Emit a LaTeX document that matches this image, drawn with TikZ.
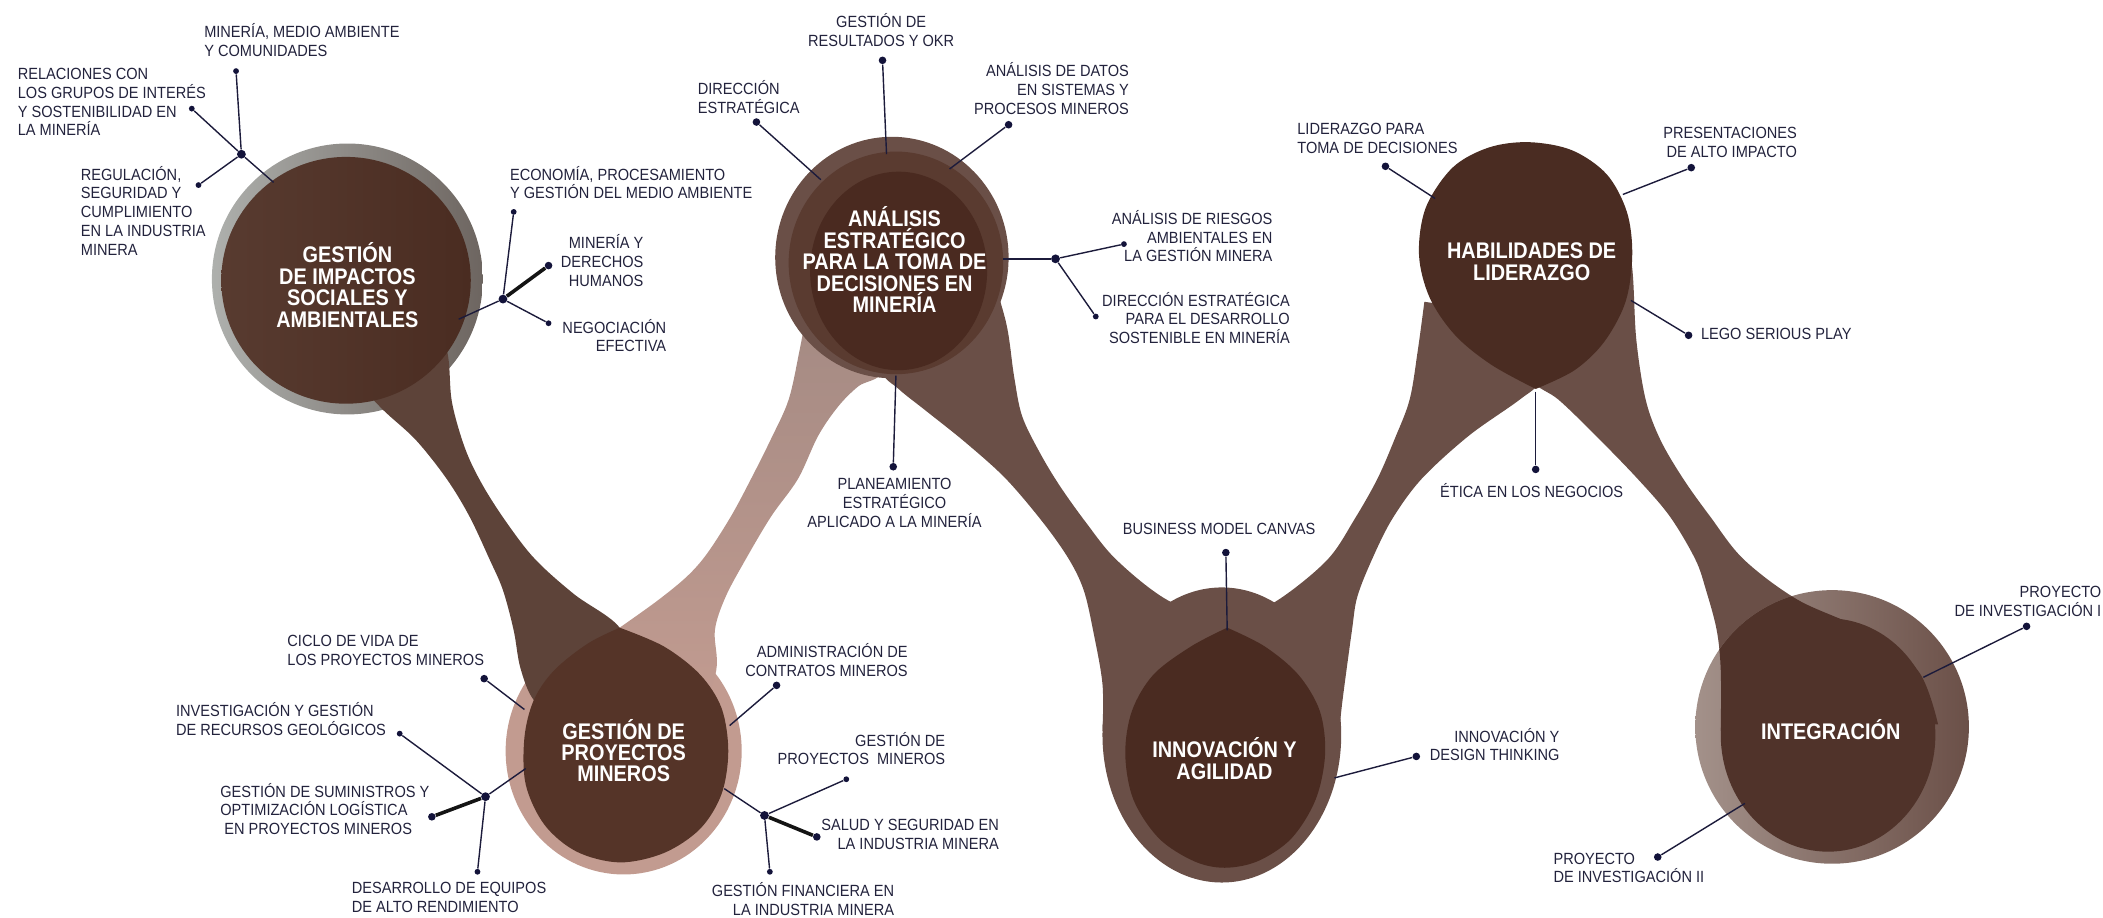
\documentclass[tikz,border=0pt]{standalone}
\usepackage{fontspec}
\newfontfamily\lblfont[FakeStretch=0.9]{Liberation Sans}
\newfontfamily\ttlfont[FakeStretch=0.88]{Liberation Sans}
\definecolor{grayL}{HTML}{AEB0AD}
\definecolor{grayR}{HTML}{6D6560}
\definecolor{innerAL}{HTML}{583B30}
\definecolor{innerAR}{HTML}{4A2C21}
\definecolor{bandAB}{HTML}{5D4339}
\definecolor{pinkB}{HTML}{C29B90}
\definecolor{innerB}{HTML}{553428}
\definecolor{lightTop}{HTML}{A48A83}
\definecolor{lightBot}{HTML}{C39C91}
\definecolor{bandc}{HTML}{6A4F47}
\definecolor{midC}{HTML}{5A3B30}
\definecolor{innerC}{HTML}{4A2A20}
\definecolor{innerD}{HTML}{4A2B21}
\definecolor{innerE}{HTML}{4A2C22}
\definecolor{ringFL}{HTML}{A3918A}
\definecolor{ringFR}{HTML}{6B5048}
\definecolor{innerF}{HTML}{50332A}
\definecolor{linec}{HTML}{1C1B3B}
\definecolor{thkc}{HTML}{141414}
\definecolor{dotc}{HTML}{13133A}
\definecolor{lblc}{HTML}{22223C}
\begin{document}
\begin{tikzpicture}[x=0.6706pt,y=-0.6706pt,
  ln/.style={draw=linec, line width=0.7pt},
  thk/.style={draw=thkc, line width=1.8pt},
  dot/.style={circle, fill=dotc, inner sep=0pt, minimum size=3.8pt},
  sdot/.style={circle, fill=dotc, inner sep=0pt, minimum size=2.9pt},
  jdot/.style={circle, fill=dotc, inner sep=0pt, minimum size=4.4pt},
  lbl/.style={font=\lblfont\fontsize{8.1pt}{9.39pt}\selectfont, text=lblc, inner sep=0pt},
  lblL/.style={lbl, align=left, anchor=base west},
  lblR/.style={lbl, align=right, anchor=base east},
  lblC/.style={lbl, align=center, anchor=base},
  ttl/.style={font=\ttlfont\bfseries\fontsize{11.3pt}{10.73pt}\selectfont, text=white, align=center, anchor=base, inner sep=0pt},
  sm/.style={smooth, tension=0.55}
]
\useasboundingbox (0,0) rectangle (1568,684);

% ---- node A outer ring
\shade[left color=grayL, right color=grayR] (259,208) circle[radius=101];
% ---- node B pink outer
\fill[pinkB] (465,560) ellipse[x radius=88, y radius=92];
% ---- light band B-C
\shade[top color=lightTop, bottom color=lightBot]
  plot[sm] coordinates {(462,468) (490,448) (512,430) (527,413) (545,385) (560,357) (575,327) (588,298) (596,262) (602,230)}
  -- plot[sm] coordinates {(650,235) (658,276) (640,288) (625,303) (610,325) (595,357) (575,385) (556,417) (541,445) (533,470) (534,500) (520,540)}
  -- cycle;
% ---- band A-B
\fill[bandAB]
  plot[sm] coordinates {(325,230) (334,265) (337,300) (347,335) (360,362) (378,390) (399,417) (428,443) (462,468) (470,500)}
  -- plot[sm] coordinates {(420,540) (398,522) (388,498) (383,470) (375,440) (365,417) (350,385) (333,357) (310,328) (285,305) (262,280)}
  -- cycle;
% ---- node A inner
\shade[left color=innerAL, right color=innerAR] (258,209) ellipse[x radius=93, y radius=92];
% ---- node B inner
\fill[innerB] plot[sm] coordinates {(462,468) (438,480) (413,500) (398,522) (391,550) (392,585) (406,615) (430,635) (462,643) (495,636) (522,618) (538,592) (543,560) (538,528) (522,503) (495,482) (462,468)} -- cycle;
% ---- band C-D
\fill[bandc]
  plot[sm] coordinates {(735,190) (750,240) (756,280) (762,310) (775,337) (790,362) (810,390) (832,417) (868,446) (915,468)}
  -- plot[sm] coordinates {(822,545) (822,510) (815,470) (808,440) (797,417) (778,390) (750,357) (720,330) (690,306) (670,290) (658,276) (665,240)}
  -- cycle;
% ---- band D-E
\fill[bandc]
  plot[sm] coordinates {(915,468) (955,446) (990,417) (1010,387) (1027,357) (1040,327) (1051,298) (1057,262) (1062,225)}
  -- plot[sm] coordinates {(1165,240) (1150,282) (1133,298) (1095,325) (1060,357) (1038,387) (1023,417) (1012,445) (1008,470) (1001,522) (998,550)}
  -- cycle;
% ---- band E-F
\fill[bandc]
  plot[sm] coordinates {(1210,160) (1217,200) (1220,253) (1227,298) (1238,328) (1255,357) (1275,385) (1300,417) (1340,447) (1390,470) (1430,500) (1445,540)}
  -- plot[sm] coordinates {(1283,545) (1283,500) (1280,470) (1272,440) (1264,417) (1245,385) (1221,357) (1190,325) (1162,298) (1140,282) (1115,240)}
  -- cycle;
% ---- node C
\fill[bandc] (665,192) ellipse[x radius=87, y radius=90];
\fill[midC] (668,196) ellipse[x radius=80, y radius=83];
\fill[innerC] (670,202) ellipse[x radius=66, y radius=74];
% ---- node D
\fill[bandc] (911,548) ellipse[x radius=89, y radius=110];
\fill[innerD] plot[sm] coordinates {(915,468) (888,482) (860,503) (844,530) (839,562) (845,596) (864,625) (890,642) (913,647) (938,642) (963,625) (981,596) (988,562) (984,530) (968,503) (943,482) (915,468)} -- cycle;
% ---- node E
\fill[innerE] plot[sm] coordinates {(1145,290) (1112,272) (1085,250) (1066,222) (1058,190) (1063,155) (1083,125) (1110,110) (1140,106) (1172,112) (1198,130) (1213,158) (1217,190) (1212,225) (1196,255) (1174,276) (1145,290)} -- cycle;
% ---- node F
\shade[left color=ringFL, right color=ringFR] (1366,542) circle[radius=102];
\begin{scope}
\clip (1366,542) circle[radius=102];
\fill[innerF]
  plot[sm] coordinates {(1210,160) (1217,200) (1220,253) (1227,298) (1238,328) (1255,357) (1275,385) (1300,417) (1340,447) (1390,470) (1430,500) (1445,540)}
  -- plot[sm] coordinates {(1283,545) (1283,500) (1280,470) (1272,440) (1264,417) (1245,385) (1221,357) (1190,325) (1162,298) (1140,282) (1115,240)}
  -- cycle;
\fill[innerF] (1363,548) ellipse[x radius=80, y radius=87];
\end{scope}

% ================= connectors =================
% A group
\node[jdot] (J1) at (180,115) {};
\node[sdot] (d1) at (176,53) {};
\node[sdot] (d2) at (143,81) {};
\node[sdot] (d3) at (148,138) {};
\coordinate (e1) at (204,136);
\draw[ln] (J1) -- (d1);
\draw[ln] (J1) -- (d2);
\draw[ln] (J1) -- (d3);
\draw[ln] (J1) -- (e1);
\node[jdot] (J2) at (375,223) {};
\node[sdot] (d4) at (383,158) {};
\node[dot] (d5) at (409,198) {};
\node[sdot] (d6) at (409,241) {};
\coordinate (e2) at (342,238);
\draw[ln] (e2) -- (J2);
\draw[ln] (J2) -- (d4);
\draw[thk] (J2) -- (d5);
\draw[ln] (J2) -- (d6);
% C group
\node[dot] (d7) at (564,91) {};
\coordinate (e3) at (612,134);
\draw[ln] (d7) -- (e3);
\node[dot] (d8) at (658,45) {};
\coordinate (e4) at (661,115);
\draw[ln] (d8) -- (e4);
\node[dot] (d9) at (752,93) {};
\coordinate (e5) at (708,126);
\draw[ln] (d9) -- (e5);
\node[jdot] (J3) at (787,193) {};
\coordinate (e6) at (748,193);
\node[sdot] (d10) at (838,182) {};
\node[sdot] (d11) at (817,236) {};
\draw[ln] (e6) -- (J3);
\draw[ln] (J3) -- (d10);
\draw[ln] (J3) -- (d11);
\coordinate (e7) at (668,280);
\node[dot] (d12) at (666,348) {};
\draw[ln] (e7) -- (d12);
% E group
\node[dot] (d13) at (1033,124) {};
\coordinate (e8) at (1070,148);
\draw[ln] (d13) -- (e8);
\node[dot] (d14) at (1261,125) {};
\coordinate (e9) at (1210,145);
\draw[ln] (d14) -- (e9);
\node[dot] (d15) at (1259,250) {};
\coordinate (e10) at (1216,224);
\draw[ln] (e10) -- (d15);
\coordinate (e11) at (1145,292);
\node[dot] (d16) at (1145,350) {};
\draw[ln] (e11) -- (d16);
% D group
\node[dot] (d17) at (914,412) {};
\coordinate (e12) at (915,470);
\draw[ln] (d17) -- (e12);
\node[dot] (d18) at (1056,564) {};
\coordinate (e13) at (995,580);
\draw[ln] (e13) -- (d18);
% F group
\node[dot] (d19) at (1511,467) {};
\coordinate (e14) at (1434,505);
\draw[ln] (e14) -- (d19);
\node[dot] (d20) at (1236,639) {};
\coordinate (e15) at (1301,599);
\draw[ln] (e15) -- (d20);
% B group
\node[dot] (d21) at (361,506) {};
\coordinate (e16) at (391,529);
\draw[ln] (d21) -- (e16);
\node[jdot] (J4) at (362,594) {};
\coordinate (e17) at (392,573);
\node[sdot] (d22) at (298,547) {};
\node[dot] (d23) at (322,609) {};
\node[sdot] (d24) at (356,650) {};
\draw[ln] (e17) -- (J4);
\draw[ln] (J4) -- (d22);
\draw[thk] (J4) -- (d23);
\draw[ln] (J4) -- (d24);
\node[dot] (d25) at (579,511) {};
\coordinate (e18) at (544,541);
\draw[ln] (d25) -- (e18);
\node[jdot] (J5) at (570,608) {};
\coordinate (e19) at (540,588);
\node[sdot] (d26) at (631,581) {};
\node[dot] (d27) at (609,624) {};
\node[sdot] (d28) at (574,650) {};
\draw[ln] (e19) -- (J5);
\draw[ln] (J5) -- (d26);
\draw[thk] (J5) -- (d27);
\draw[ln] (J5) -- (d28);

% ================= titles (anchor = baseline of last line) =================
\node[ttl] (tA) at (259,244) {GESTIÓN\\DE IMPACTOS\\SOCIALES Y\\AMBIENTALES};
\node[ttl] (tB) at (465,583) {GESTIÓN DE\\PROYECTOS\\MINEROS};
\node[ttl] (tC) at (667,233) {ANÁLISIS\\ESTRATÉGICO\\PARA LA TOMA DE\\DECISIONES EN\\MINERÍA};
\node[ttl] (tD) at (913,581) {INNOVACIÓN Y\\AGILIDAD};
\node[ttl] (tE) at (1142,209) {HABILIDADES DE\\LIDERAZGO};
\node[ttl] (tF) at (1365,551) {INTEGRACIÓN};

% ================= labels (anchor = baseline of last line) =================
\node[lblL] (t1) at (152,42.3) {MINERÍA, MEDIO AMBIENTE\\Y COMUNIDADES};
\node[lblL] (t2) at (13,101.3) {RELACIONES CON\\LOS GRUPOS DE INTERÉS\\Y SOSTENIBILIDAD EN\\LA MINERÍA};
\node[lblL] (t3) at (60,190.3) {REGULACIÓN,\\SEGURIDAD Y\\CUMPLIMIENTO\\EN LA INDUSTRIA\\MINERA};
\node[lblL] (t4) at (380,148.3) {ECONOMÍA, PROCESAMIENTO\\Y GESTIÓN DEL MEDIO AMBIENTE};
\node[lblR] (t5) at (480,213.3) {MINERÍA Y\\DERECHOS\\HUMANOS};
\node[lblR] (t6) at (497,262.3) {NEGOCIACIÓN\\EFECTIVA};
\node[lblL] (t7) at (520,84.3) {DIRECCIÓN\\ESTRATÉGICA};
\node[lblC] (t8) at (657,34.3) {GESTIÓN DE\\RESULTADOS Y OKR};
\node[lblR] (t9) at (842,85.3) {ANÁLISIS DE DATOS\\EN SISTEMAS Y\\PROCESOS MINEROS};
\node[lblR] (t10) at (949,195.3) {ANÁLISIS DE RIESGOS\\AMBIENTALES EN\\LA GESTIÓN MINERA};
\node[lblR] (t11) at (962,256.3) {DIRECCIÓN ESTRATÉGICA\\PARA EL DESARROLLO\\SOSTENIBLE EN MINERÍA};
\node[lblC] (t12) at (667,393.3) {PLANEAMIENTO\\ESTRATÉGICO\\APLICADO A LA MINERÍA};
\node[lblL] (t13) at (967,114.3) {LIDERAZGO PARA\\TOMA DE DECISIONES};
\node[lblR] (t14) at (1340,117.3) {PRESENTACIONES\\DE ALTO IMPACTO};
\node[lblL] (t15) at (1268,253.3) {LEGO SERIOUS PLAY};
\node[lblC] (t16) at (1142,371.3) {ÉTICA EN LOS NEGOCIOS};
\node[lblC] (t17) at (909,398.3) {BUSINESS MODEL CANVAS};
\node[lblR] (t18) at (1163,567.3) {INNOVACIÓN Y\\DESIGN THINKING};
\node[lblR] (t19) at (1567,459.3) {PROYECTO\\DE INVESTIGACIÓN I};
\node[lblL] (t20) at (1158,658.3) {PROYECTO\\DE INVESTIGACIÓN II};
\node[lblL] (t21) at (214,496.3) {CICLO DE VIDA DE\\LOS PROYECTOS MINEROS};
\node[lblL] (t22) at (131,548.3) {INVESTIGACIÓN Y GESTIÓN\\DE RECURSOS GEOLÓGICOS};
\node[lblL] (t23) at (164,622.3) {GESTIÓN DE SUMINISTROS Y\\OPTIMIZACIÓN LOGÍSTICA\\\hspace*{2pt}EN PROYECTOS MINEROS};
\node[lblL] (t24) at (262,680.3) {DESARROLLO DE EQUIPOS\\DE ALTO RENDIMIENTO};
\node[lblR] (t25) at (677,504.3) {ADMINISTRACIÓN DE\\CONTRATOS MINEROS};
\node[lblR] (t26) at (705,570.3) {GESTIÓN DE\\PROYECTOS\ \ MINEROS};
\node[lblR] (t27) at (745,633.3) {SALUD Y SEGURIDAD EN\\LA INDUSTRIA MINERA};
\node[lblR] (t28) at (667,682.3) {GESTIÓN FINANCIERA EN\\LA INDUSTRIA MINERA};
\end{tikzpicture}
\end{document}
